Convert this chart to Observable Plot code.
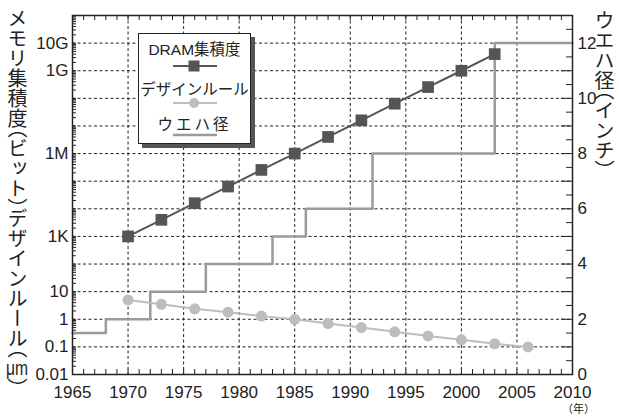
<!DOCTYPE html>
<html><head><meta charset="utf-8">
<script src="https://cdn.jsdelivr.net/npm/d3@7"></script>
<script src="https://cdn.jsdelivr.net/npm/@observablehq/plot@0.6"></script>
<style>
body{margin:0;background:#fff;}
#wrap{position:relative;width:619px;height:417px;font-family:"Liberation Sans",Arial,sans-serif;color:#222;}
.vt{position:absolute;writing-mode:vertical-rl;font-family:"Noto Sans CJK JP";font-size:20px;color:#222;line-height:1;white-space:nowrap;}
.hp{font-feature-settings:"vhal";}
.tcy{text-combine-upright:all;font-family:"Liberation Sans",Arial,sans-serif;}
#legend{position:absolute;left:138px;top:33px;width:111px;height:109px;border:1px solid #222;background:#fff;box-shadow:4px 4px 0 #555;font-family:"Liberation Sans","Noto Sans CJK JP",sans-serif;font-size:15.5px;color:#222;}
#legend .t{position:absolute;left:0;width:100%;text-align:center;line-height:1;}
#legend svg{position:absolute;left:0;}
#year{position:absolute;left:562px;top:403.3px;font-family:"Noto Sans CJK JP";font-size:11px;line-height:11px;height:11px;color:#222;}
</style></head><body><div id="wrap"></div>
<script>
// ---- data ----
const dramYears = [1970, 1973, 1976, 1979, 1982, 1985, 1988, 1991, 1994, 1997, 2000, 2003];
const dramBits = [1e3, 4e3, 16e3, 64e3, 256e3, 1e6, 4e6, 16e6, 64e6, 256e6, 1e9, 4e9];
const ruleYears = [1970, 1973, 1976, 1979, 1982, 1985, 1988, 1991, 1994, 1997, 2000, 2003, 2006];
const ruleMicrons = [5, 3.5, 2.4, 1.8, 1.3, 1.0, 0.7, 0.5, 0.35, 0.25, 0.18, 0.13, 0.1];
const waferYears = [1965, 1968, 1972, 1977, 1983, 1986, 1992, 2003, 2010];
const waferInches = [1.5, 2, 3, 4, 5, 6, 8, 12, 12];
const yearTicks = [1965, 1970, 1975, 1980, 1985, 1990, 1995, 2000, 2005, 2010];
const leftTickValues = [0.01, 0.1, 1, 10, 1e3, 1e6, 1e9, 1e10];
const leftTickLabels = ["0.01", "0.1", "1", "10", "1K", "1M", "1G", "10G"];
const rightTickInches = [0, 2, 4, 6, 8, 10, 12];

// one decade on the left axis equals one inch on the right axis
const inchToY = inch => 10 ** (inch - 2);

const dram = dramYears.map((x, i) => ({x, y: dramBits[i]}));
const rule = ruleYears.map((x, i) => ({x, y: ruleMicrons[i]}));
const wafer = waferYears.map((x, i) => ({x, y: inchToY(waferInches[i])}));

const W = 619, H = 417, mL = 72, mR = 47, mT = 15, mB = 43;
const pw = W - mL - mR, ph = H - mT - mB;
const allYears = d3.range(1965, 2011);
const gridYears = d3.range(1970, 2010, 5);
const decades = d3.range(-2, 11);
const gridY = d3.range(-1, 11).map(k => 10 ** k);
const minorLeft = decades.flatMap(k => d3.range(1, 10).map(m => m * 10 ** k));
const rightMajor = d3.range(0, 14).map(inchToY);
const rightMinor = d3.range(0, 13).map(k => inchToY(k + 0.5));

const dash = {stroke: "#222", strokeDasharray: "3,2.5", strokeWidth: 1};

const plot = Plot.plot({
  width: W, height: H,
  marginLeft: mL, marginRight: mR, marginTop: mT, marginBottom: mB,
  style: {fontFamily: "'Liberation Sans', Arial, sans-serif", fontSize: "17px", color: "#222", background: "#fff"},
  x: {domain: [1965, 2010]},
  y: {type: "log", domain: [0.01, 1e11]},
  marks: [
    Plot.ruleX(gridYears, {x: d => d, ...dash}),
    Plot.ruleY(gridY, {y: d => d, ...dash}),
    Plot.tickX(allYears, {x: d => d, insetTop: ph - 5, stroke: "#222"}),
    Plot.tickX(allYears, {x: d => d, insetBottom: ph - 5, stroke: "#222"}),
    Plot.tickY(minorLeft, {y: d => d, insetRight: pw - 4, stroke: "#222"}),
    Plot.tickY(rightMajor, {y: d => d, insetLeft: pw - 11, stroke: "#222"}),
    Plot.tickY(rightMinor, {y: d => d, insetLeft: pw - 6, stroke: "#222"}),
    Plot.line(wafer, {x: "x", y: "y", curve: "step-after", stroke: "#9a9a9a", strokeWidth: 2.5}),
    Plot.line(rule, {x: "x", y: "y", stroke: "#bdbdbd", strokeWidth: 2}),
    Plot.dot(rule, {x: "x", y: "y", r: 5.5, fill: "#bdbdbd", stroke: "none"}),
    Plot.line(dram, {x: "x", y: "y", stroke: "#555", strokeWidth: 2}),
    Plot.dot(dram, {x: "x", y: "y", symbol: "square", r: 6.6, fill: "#555", stroke: "none"}),
    Plot.frame({stroke: "#222", strokeWidth: 1.5}),
    Plot.axisX({ticks: yearTicks, tickSize: 0, tickPadding: 11, tickFormat: "d", label: null}),
    Plot.axisY({anchor: "left", ticks: leftTickValues, tickSize: 0, tickPadding: 4, label: null,
      tickFormat: d => leftTickLabels[leftTickValues.indexOf(d)]}),
    Plot.axisY({anchor: "right", ticks: rightTickInches.map(inchToY), tickSize: 0, tickPadding: 5, label: null,
      tickFormat: d => String(rightTickInches[rightTickInches.map(inchToY).indexOf(d)])})
  ]
});

const wrap = document.getElementById("wrap");
wrap.appendChild(plot);

const lt = document.createElement("div");
lt.className = "vt";
lt.style.left = "7px"; lt.style.top = "8px";
lt.innerHTML = 'メモリ集積度<span class="hp">（</span>ビット<span class="hp">）</span>デザインルール<span class="hp">（</span><span class="tcy">μm</span><span class="hp">）</span>';
wrap.appendChild(lt);

const rt = document.createElement("div");
rt.className = "vt";
rt.style.left = "594px"; rt.style.top = "10px";
rt.innerHTML = 'ウエハ径<span class="hp">（</span>インチ<span class="hp">）</span>';
wrap.appendChild(rt);

const yr = document.createElement("div");
yr.id = "year";
yr.textContent = "（年）";
wrap.appendChild(yr);

const lg = document.createElement("div");
lg.id = "legend";
lg.innerHTML = `
<div class="t" style="top:8px">DRAM集積度</div>
<svg style="top:25px" width="111" height="14"><line x1="34" x2="78" y1="7" y2="7" stroke="#555" stroke-width="2"/><rect x="49.5" y="1.5" width="11" height="11" fill="#555"/></svg>
<div class="t" style="top:48px">デザインルール</div>
<svg style="top:62px" width="111" height="14"><line x1="34" x2="78" y1="7" y2="7" stroke="#bdbdbd" stroke-width="2"/><circle cx="55" cy="7" r="5" fill="#bdbdbd"/></svg>
<div class="t" style="top:83px;letter-spacing:3px">ウエハ径</div>
<svg style="top:96px" width="111" height="10"><line x1="34" x2="78" y1="5" y2="5" stroke="#9a9a9a" stroke-width="2.5"/></svg>`;
wrap.appendChild(lg);
</script></body></html>
